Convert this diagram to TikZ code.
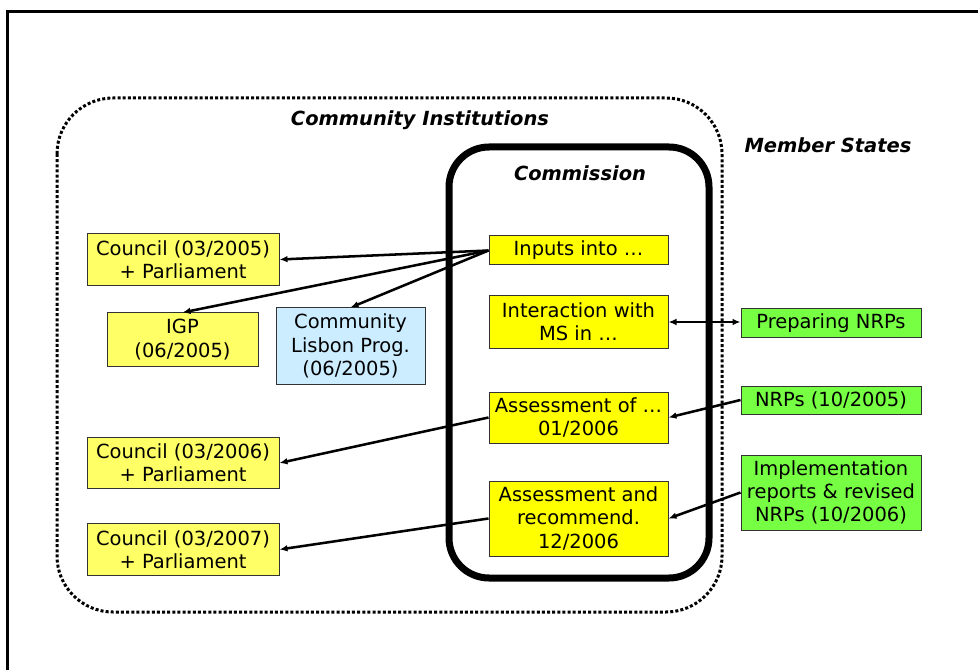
\documentclass[tikz,border=0pt]{standalone}
\usepackage{fontspec}
\setmainfont{DejaVu Sans}
\usetikzlibrary{arrows.meta}
\definecolor{cyellow}{RGB}{255,255,0}
\definecolor{pyellow}{RGB}{255,255,102}
\definecolor{lblue}{RGB}{204,236,255}
\definecolor{mgreen}{RGB}{119,255,68}
\definecolor{edgegray}{RGB}{51,51,51}
\begin{document}
\begin{tikzpicture}[x=0.75pt,y=0.75pt,yscale=-1,xscale=1,
  box/.style={draw=edgegray,line width=0.75pt,inner sep=0pt,align=center,
    font=\fontsize{14.6}{17.4}\selectfont},
  council/.style={box,fill=pyellow,minimum width=144pt,minimum height=38.5pt},
  comm/.style={box,fill=cyellow,minimum width=134.25pt},
  ms/.style={box,fill=mgreen,minimum width=135pt},
  link/.style={line width=1.9pt,-{Latex[length=6pt,width=5pt]}},
  title/.style={font=\fontsize{14.6}{16}\selectfont\bfseries\itshape}]
    \useasboundingbox (0,0) rectangle (978,670);
    % page frame
    \draw [line width=2.25pt] (7,670) -- (7,12) -- (978,12) ;
    % community institutions and commission
    \draw [line width=2.25pt,dash pattern=on 2.25pt off 1.6pt,rounded corners=42pt] (57,98) rectangle (722,612) ;
    \draw [line width=5.25pt,rounded corners=30pt] (449,147) rectangle (709,578) ;
    \node [title] (lbl_ci) at (420,120) {Community Institutions};
    \node [title] (lbl_com) at (580,173) {Commission};
    \node [title] (lbl_ms) at (828,145) {Member States};
    % council side
    \node [council] (council05) at (183,259.5) {Council (03/2005)\\+ Parliament};
    \node [box,fill=pyellow,minimum width=113.25pt,minimum height=39.75pt] (igp) at (182.5,339.5) {IGP\\(06/2005)};
    \node [box,fill=lblue,minimum width=111.75pt,minimum height=57pt] (lisbon) at (350.5,346) {Community\\Lisbon Prog.\\(06/2005)};
    \node [council] (council06) at (183,463) {Council (03/2006)\\+ Parliament};
    \node [council] (council07) at (183,549.5) {Council (03/2007)\\+ Parliament};
    % commission boxes
    \node [comm,minimum height=21.75pt] (inputs) at (578.5,250.5) {Inputs into \dots};
    \node [comm,minimum height=39pt] (interact) at (578.5,322) {Interaction with\\MS in \dots};
    \node [comm,minimum height=38.25pt] (assess) at (578.5,417.5) {Assessment of \dots\\01/2006};
    \node [comm,minimum height=56.25pt] (assrec) at (578.5,518.5) {Assessment and\\recommend.\\12/2006};
    % member states
    \node [ms,minimum height=21pt] (prep) at (831,323) {Preparing NRPs};
    \node [ms,minimum height=21pt] (nrp05) at (831,400) {NRPs (10/2005)};
    \node [ms,minimum height=56.25pt] (impl) at (831,492.5) {Implementation\\reports \& revised\\NRPs (10/2006)};
    % links
    \draw [link] (inputs.west) -- (council05.east) ;
    \draw [link] (inputs.west) -- (igp.north) ;
    \draw [link] (inputs.west) -- (lisbon.north) ;
    \draw [link,{Latex[length=6pt,width=5pt]}-{Latex[length=6pt,width=5pt]}] (interact.east) -- (interact.east -| prep.west) ;
    \draw [link] (nrp05.west) -- (assess.east) ;
    \draw [link] (assess.west) -- (council06.east) ;
    \draw [link] (impl.west) -- (assrec.east) ;
    \draw [link] (assrec.west) -- (council07.east) ;
\end{tikzpicture}
\end{document}
